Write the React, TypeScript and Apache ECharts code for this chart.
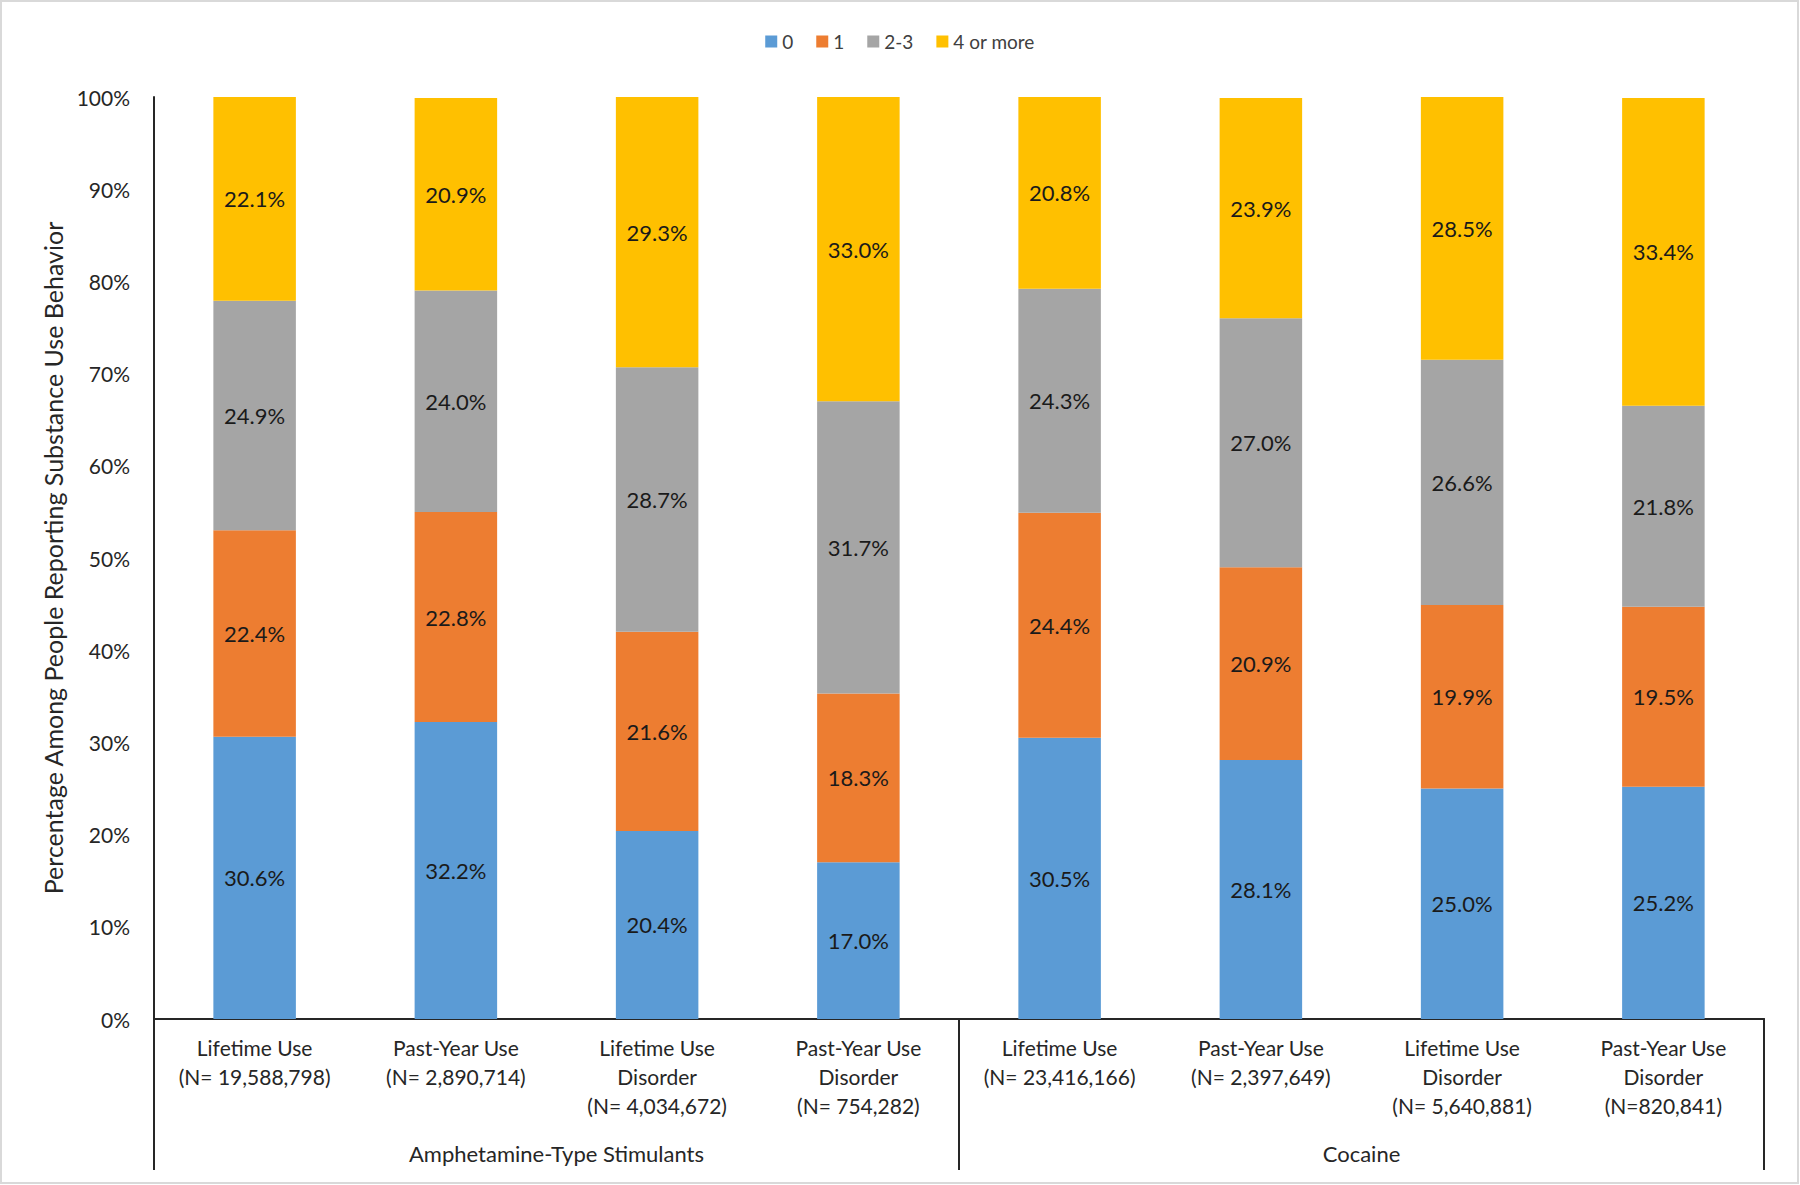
import React, { useEffect, useRef } from "react";
import * as echarts from "echarts";

const categories = [
  "Lifetime Use\n(N= 19,588,798)",
  "Past-Year Use\n(N= 2,890,714)",
  "Lifetime Use\nDisorder\n(N= 4,034,672)",
  "Past-Year Use\nDisorder\n(N= 754,282)",
  "Lifetime Use\n(N= 23,416,166)",
  "Past-Year Use\n(N= 2,397,649)",
  "Lifetime Use\nDisorder\n(N= 5,640,881)",
  "Past-Year Use\nDisorder\n(N=820,841)",
];
const groups = ["Amphetamine-Type Stimulants", "Cocaine"];
const seriesNames = ["0", "1", "2-3", "4 or more"];
const values0 = [30.6, 32.2, 20.4, 17.0, 30.5, 28.1, 25.0, 25.2];
const values1 = [22.4, 22.8, 21.6, 18.3, 24.4, 20.9, 19.9, 19.5];
const values23 = [24.9, 24.0, 28.7, 31.7, 24.3, 27.0, 26.6, 21.8];
const values4plus = [22.1, 20.9, 29.3, 33.0, 20.8, 23.9, 28.5, 33.4];
const colors = ["#5B9BD5", "#ED7D31", "#A5A5A5", "#FFC000"];
const yTicks = [0, 10, 20, 30, 40, 50, 60, 70, 80, 90, 100];

const FONT = "Lato";
const AXIS_COLOR = "#262626";

export default function App() {
  const ref = useRef<HTMLDivElement>(null);
  useEffect(() => {
    if (!ref.current) return;
    const chart = echarts.init(ref.current, null, { renderer: "svg" });
    const allValues = [values0, values1, values23, values4plus];
    chart.setOption({
      animation: false,
      backgroundColor: "#ffffff",
      textStyle: { fontFamily: FONT },
      graphic: [
        {
          type: "rect",
          shape: { x: 1, y: 1, width: 1797, height: 1182 },
          style: { fill: "none", stroke: "#d9d9d9", lineWidth: 2 },
          silent: true,
        },
      ],
      legend: {
        top: 27,
        left: "center",
        icon: "rect",
        itemWidth: 12,
        itemHeight: 12,
        itemGap: 23,
        data: seriesNames,
        textStyle: { fontFamily: FONT, fontSize: 19, color: "#404040" },
      },
      grid: { left: 154, right: 36, top: 97, bottom: 166, containLabel: false },
      xAxis: [
        {
          type: "category",
          data: categories,
          position: "bottom",
          axisLine: { show: true, lineStyle: { color: AXIS_COLOR, width: 2 } },
          axisTick: { show: false },
          axisLabel: {
            interval: 0,
            margin: 14,
            fontFamily: FONT,
            fontSize: 21,
            lineHeight: 29,
            color: "#262626",
          },
        },
        {
          type: "category",
          data: groups,
          position: "bottom",
          offset: 0,
          axisLine: { show: true, lineStyle: { color: AXIS_COLOR, width: 2 } },
          axisTick: {
            show: true,
            length: 151,
            interval: 0,
            alignWithLabel: false,
            lineStyle: { color: AXIS_COLOR, width: 2 },
          },
          axisLabel: {
            interval: 0,
            margin: 123,
            fontFamily: FONT,
            fontSize: 22,
            color: "#262626",
          },
        },
      ],
      yAxis: {
        type: "value",
        min: 0,
        max: 100,
        interval: 10,
        name: "Percentage Among People Reporting Substance Use Behavior",
        nameLocation: "middle",
        nameGap: 88,
        nameTextStyle: { fontFamily: FONT, fontSize: 25, color: "#262626" },
        axisLine: { show: true, lineStyle: { color: AXIS_COLOR, width: 2 } },
        axisTick: { show: false },
        splitLine: { show: false },
        axisLabel: {
          margin: 24,
          fontFamily: FONT,
          fontSize: 21,
          color: "#262626",
          formatter: (v: number) => (yTicks.includes(v) ? `${v}%` : ""),
        },
      },
      series: seriesNames.map((name, i) => ({
        name,
        type: "bar",
        stack: "total",
        xAxisIndex: 0,
        barCategoryGap: "59%",
        itemStyle: { color: colors[i] },
        label: {
          show: true,
          position: "inside",
          fontFamily: FONT,
          fontSize: 22,
          color: "#1a1a1a",
          formatter: (p: any) => `${Number(p.value).toFixed(1)}%`,
        },
        data: allValues[i],
      })),
    });
    return () => chart.dispose();
  }, []);
  return (
    <div
      ref={ref}
      style={{ position: "fixed", left: 0, top: 0, width: 1800, height: 1185 }}
    />
  );
}
